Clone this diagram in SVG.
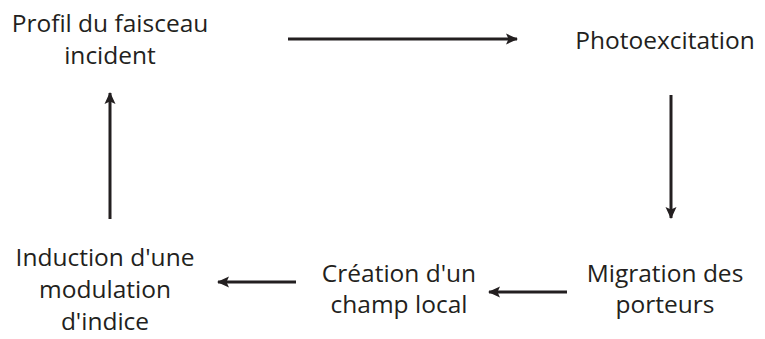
<svg xmlns="http://www.w3.org/2000/svg" width="765" height="339" viewBox="0 0 765 339">
<style>
.t{font-family:"Open Sans","Liberation Sans",sans-serif;font-size:24.5px;fill:#231f20;text-anchor:middle}
.c{stroke:#231f20;stroke-width:3;fill:none}
</style>
<defs>
<marker id="ah" markerWidth="12" markerHeight="12" viewBox="0 0 12 12" refX="11" refY="6" orient="auto" markerUnits="userSpaceOnUse">
<path d="M0,0.5 L12,6 L0,11.5 L2.5,6 Z" fill="#231f20"/>
</marker>
</defs>
<rect width="765" height="339" fill="#fff"/>
<g id="n1"><text class="t" x="110" y="31.5">Profil du faisceau</text><text class="t" x="110" y="63.5">incident</text></g>
<g id="n2"><text class="t" x="665" y="48.5">Photoexcitation</text></g>
<g id="n3"><text class="t" x="665" y="281.5">Migration des</text><text class="t" x="665" y="313">porteurs</text></g>
<g id="n4"><text class="t" x="399" y="281.5">Création d'un</text><text class="t" x="399" y="313">champ local</text></g>
<g id="n5"><text class="t" x="105" y="265.5">Induction d'une</text><text class="t" x="105" y="298">modulation</text><text class="t" x="105" y="330">d'indice</text></g>
<g id="connectors">
<line class="c" x1="288" y1="39" x2="517" y2="39" marker-end="url(#ah)"/>
<line class="c" x1="671" y1="95" x2="671" y2="218" marker-end="url(#ah)"/>
<line class="c" x1="567" y1="292" x2="489" y2="292" marker-end="url(#ah)"/>
<line class="c" x1="296" y1="282" x2="218" y2="282" marker-end="url(#ah)"/>
<line class="c" x1="110" y1="219" x2="110" y2="93" marker-end="url(#ah)"/>
</g>
</svg>
